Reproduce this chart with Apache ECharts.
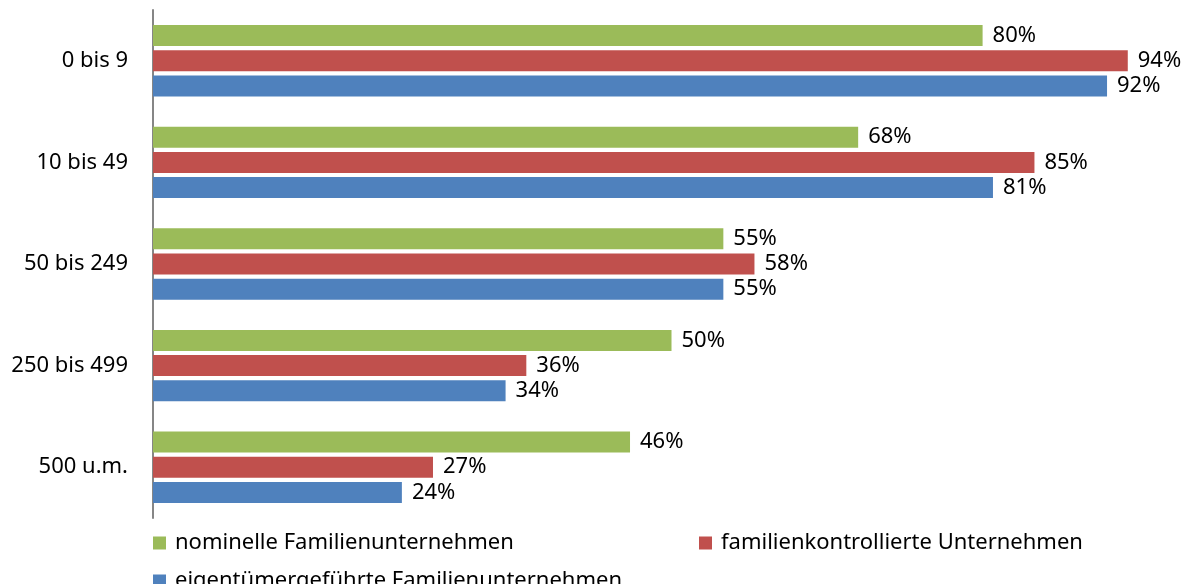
<!DOCTYPE html>
<html lang="de">
<head>
<meta charset="UTF-8">
<title>Familienunternehmen nach Größenklassen</title>
<script src="https://cdn.jsdelivr.net/npm/echarts@6/dist/echarts.min.js"></script>
<style>
  html, body { margin: 0; padding: 0; background: #fff; }
  #chart { width: 1190px; height: 584px; }
</style>
</head>
<body>
<div id="chart"></div>
<script type="text/javascript">
var categories = ['0 bis 9', '10 bis 49', '50 bis 249', '250 bis 499', '500 u.m.'];
var seriesNames = ['nominelle Familienunternehmen', 'familienkontrollierte Unternehmen', 'eigentümergeführte Familienunternehmen'];
var nominell = [80, 68, 55, 50, 46];
var kontrolliert = [94, 85, 58, 36, 27];
var gefuehrt = [92, 81, 55, 34, 24];
var colors = ['#9BBB59', '#C0504D', '#4F81BD'];

var font = 'Noto Sans';
var chart = echarts.init(document.getElementById('chart'), null, { renderer: 'canvas' });

var labelOpt = {
  show: true,
  position: 'right',
  distance: 10,
  color: '#000',
  fontFamily: font,
  fontSize: 22,
  formatter: '{c}%'
};

function legendAt(name, left, top) {
  return {
    data: [name],
    left: left,
    top: top,
    itemWidth: 13,
    itemHeight: 13,
    itemGap: 0,
    icon: 'rect',
    textStyle: { fontFamily: font, fontSize: 22, color: '#000', padding: [0, 0, 0, 4] }
  };
}

var option = {
  animation: false,
  color: colors,
  grid: { left: 153, right: 0, top: 10, bottom: 66, containLabel: false },
  legend: [
    legendAt(seriesNames[0], 148, 527),
    legendAt(seriesNames[1], 694, 527),
    legendAt(seriesNames[2], 148, 565)
  ],
  xAxis: {
    type: 'value',
    min: 0,
    max: 100,
    show: false
  },
  yAxis: {
    type: 'category',
    inverse: true,
    data: categories,
    axisLine: { show: true, lineStyle: { color: '#868686', width: 2 } },
    axisTick: { show: false },
    axisLabel: { color: '#000', fontFamily: font, fontSize: 22, margin: 25 }
  },
  series: [
    { name: seriesNames[0], type: 'bar', data: nominell, barWidth: 21, barGap: '20%', label: labelOpt },
    { name: seriesNames[1], type: 'bar', data: kontrolliert, barWidth: 21, barGap: '20%', label: labelOpt },
    { name: seriesNames[2], type: 'bar', data: gefuehrt, barWidth: 21, barGap: '20%', label: labelOpt }
  ]
};

chart.setOption(option);
window.addEventListener('resize', chart.resize);
</script>
</body>
</html>
